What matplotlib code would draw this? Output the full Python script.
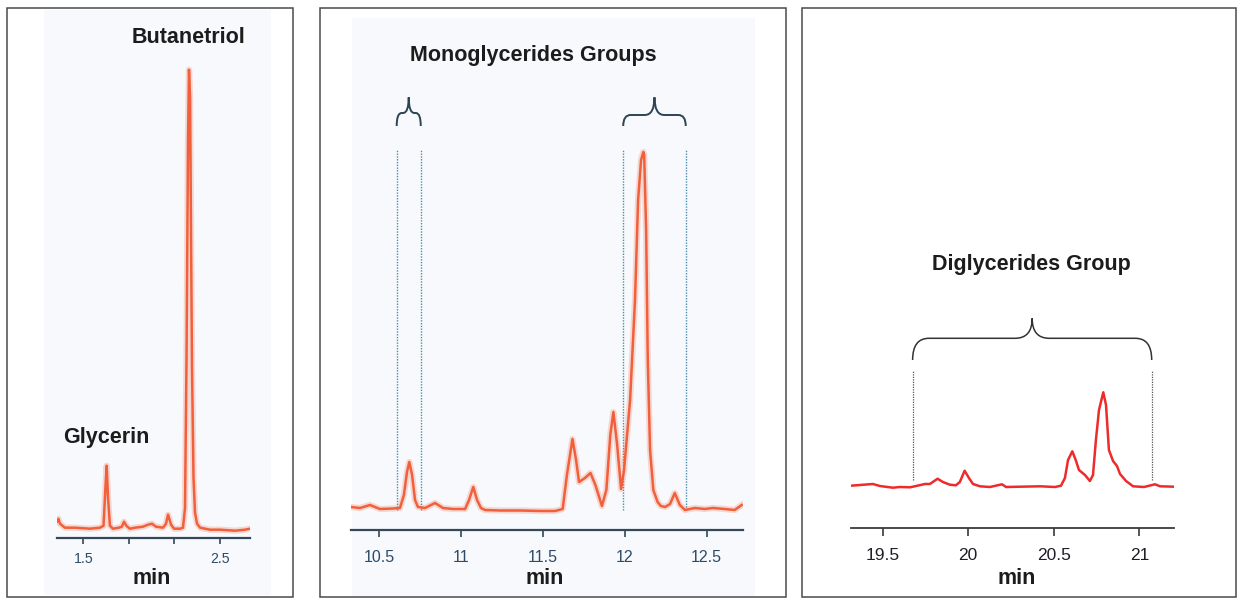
import numpy as np
import matplotlib
matplotlib.use("Agg")
import matplotlib.pyplot as plt
from matplotlib.patches import Rectangle, PathPatch
from matplotlib.path import Path
from matplotlib import transforms

### data (time in min, detector response in arbitrary units)
p1_time = [1.308, 1.318, 1.33, 1.366, 1.44, 1.549, 1.622, 1.648, 1.662, 1.671,
           1.681, 1.695, 1.717, 1.76, 1.782, 1.798, 1.815, 1.84, 1.878, 1.936,
           1.973, 2.002, 2.032, 2.083, 2.105, 2.12, 2.142, 2.164, 2.207, 2.229,
           2.244, 2.255, 2.266, 2.273, 2.281, 2.288, 2.295, 2.306, 2.317, 2.332,
           2.354, 2.427, 2.5, 2.61, 2.683, 2.719]
p1_signal = [16, 19, 14, 10, 10, 9, 10, 12, 50, 72,
             40, 12, 9, 10, 11, 16, 12, 9, 10, 11,
             13, 14, 11, 10, 14, 23, 13, 9, 9, 10,
             30, 180, 400, 468, 440, 300, 170, 60, 25, 14,
             10, 8, 8, 7, 8, 9]

p2_time = [10.325, 10.382, 10.443, 10.504, 10.584, 10.626, 10.65, 10.669, 10.683, 10.70,
           10.718, 10.736, 10.779, 10.84, 10.889, 10.95, 11.024, 11.048, 11.074, 11.097,
           11.121, 11.146, 11.237, 11.36, 11.482, 11.573, 11.62, 11.646, 11.68, 11.702,
           11.72, 11.756, 11.79, 11.82, 11.86, 11.887, 11.911, 11.93, 11.953, 11.977,
           11.995, 12.032, 12.062, 12.081, 12.099, 12.113, 12.118, 12.13, 12.14, 12.154,
           12.174, 12.2, 12.22, 12.246, 12.276, 12.305, 12.336, 12.367, 12.428, 12.489,
           12.537, 12.61, 12.671, 12.714]
p2_signal = [23, 22, 25, 21, 21.5, 22, 35, 58, 68, 55,
             30, 23, 22, 27, 22, 21, 21, 30, 43, 30,
             22, 20, 19.5, 19.5, 19, 19, 21, 55, 91, 70,
             48, 52, 57, 45, 24, 40, 95, 118, 85, 41,
             60, 130, 230, 330, 370, 378, 375, 300, 170, 80,
             40, 28, 24, 23, 26, 37, 25, 20, 22, 21,
             22, 21, 20, 25]

p3_time = [19.315, 19.367, 19.443, 19.484, 19.56, 19.601, 19.66, 19.695, 19.747, 19.776,
           19.821, 19.852, 19.893, 19.928, 19.951, 19.979, 20.004, 20.028, 20.069, 20.127,
           20.197, 20.221, 20.303, 20.42, 20.507, 20.542, 20.565, 20.583, 20.608, 20.628,
           20.647, 20.682, 20.711, 20.729, 20.746, 20.764, 20.789, 20.805, 20.822, 20.846,
           20.869, 20.887, 20.922, 20.963, 21.027, 21.091, 21.121, 21.204]
p3_signal = [42, 42.7, 43.7, 41.7, 40, 40.7, 40.4, 41.7, 43.7, 43.7,
             49, 45.7, 43, 42.4, 45.7, 57, 49.7, 43.7, 41.4, 40.7,
             43.4, 40.7, 41, 41.4, 40.7, 42, 49.7, 67.7, 76.4, 67.7,
             57.7, 52.7, 46.7, 52.7, 87.7, 117.7, 135.4, 122.7, 77.7, 66.7,
             61.7, 53.7, 46.7, 41.4, 40.7, 43.4, 41.4, 41]

p1_ticks = [1.5, 1.833, 2.167, 2.5]
p1_ticklabels = ["1.5", "", "", "2.5"]
p2_ticks = [10.5, 11, 11.5, 12, 12.5]
p2_ticklabels = ["10.5", "11", "11.5", "12", "12.5"]
p3_ticks = [19.5, 20, 20.5, 21]
p3_ticklabels = ["19.5", "20", "20.5", "21"]

mono_groups = [(10.606, 10.753), (11.99, 12.372)]
di_group = (19.675, 21.072)

W, H = 1243, 599
BOLD_FONT = ["Liberation Sans", "DejaVu Sans"]
TICK_FONT = ["Liberation Sans", "DejaVu Sans"]
ORANGE = "#f1603c"
RED = "#ee2b2b"


def px_axes(fig, left, right, top, bottom):
    return fig.add_axes([left / W, 1 - bottom / H, (right - left) / W, (bottom - top) / H])


def setup_axis(ax, xlim, ylim, ticks, color, lw, ticklen):
    ax.set_xlim(xlim)
    ax.set_ylim(ylim)
    for s in ["top", "left", "right"]:
        ax.spines[s].set_visible(False)
    ax.spines["bottom"].set_color(color)
    ax.spines["bottom"].set_linewidth(lw)
    ax.set_yticks([])
    ax.set_xticks(ticks)
    ax.set_xticklabels([])
    ax.tick_params(axis="x", direction="out", length=ticklen, width=1.2, color=color)
    ax.patch.set_alpha(0)


def tick_texts(fig, ax, ticks, labels, baseline_px, size, color):
    trans = transforms.blended_transform_factory(ax.transData, fig.transFigure)
    for t, lab in zip(ticks, labels):
        if lab:
            ax.text(t, 1 - baseline_px / H, lab, transform=trans, ha="center",
                    va="baseline", fontsize=size, color=color, family=TICK_FONT)


def draw_brace(ax, x0, x1, y_end, y_h, y_tip, r_c, r_t, color, lw):
    xm = (x0 + x1) / 2
    verts = [(x0, y_end), (x0, y_h), (x0 + r_c, y_h), (xm - r_t, y_h), (xm, y_h), (xm, y_tip),
             (xm, y_h), (xm + r_t, y_h), (x1 - r_c, y_h), (x1, y_h), (x1, y_end)]
    codes = [Path.MOVETO, Path.CURVE3, Path.CURVE3, Path.LINETO, Path.CURVE3, Path.CURVE3,
             Path.CURVE3, Path.CURVE3, Path.LINETO, Path.CURVE3, Path.CURVE3]
    ax.add_patch(PathPatch(Path(verts, codes), fill=False, edgecolor=color, lw=lw,
                           clip_on=False))


def label(fig, x, baseline, s, size=15.5):
    fig.text(x / W, 1 - baseline / H, s, ha="center", va="baseline", fontsize=size,
             fontweight="bold", family=BOLD_FONT, color="#1c1c1c")


def chrom(ax, t, y, color, halo=True):
    if halo:
        ax.plot(t, y, color=color, lw=4.5, alpha=0.22, solid_joinstyle="round")
    ax.plot(t, y, color=color, lw=1.8, solid_joinstyle="round")


def main():
    fig = plt.figure(figsize=(W / 100, H / 100), dpi=100)
    fig.patch.set_facecolor("white")

    ### panel frames and tinted plot areas
    for (x0, y0, x1, y1) in [(7, 8, 293, 597), (320, 8, 786, 597), (802, 8, 1236, 597)]:
        fig.patches.append(Rectangle((x0 / W, 1 - y1 / H), (x1 - x0) / W, (y1 - y0) / H,
                                     transform=fig.transFigure, fill=False,
                                     edgecolor="#4a4a4a", lw=1.1))
    for (x0, y0, x1, y1) in [(44, 10, 271, 595), (352, 18, 755, 596)]:
        fig.patches.append(Rectangle((x0 / W, 1 - y1 / H), (x1 - x0) / W, (y1 - y0) / H,
                                     transform=fig.transFigure, facecolor="#f7f9fc",
                                     edgecolor="none", zorder=-1))

    ### panel 1 : glycerin / butanetriol
    ax1 = px_axes(fig, 57, 250, 10, 537.7)
    setup_axis(ax1, (1.308, 2.719), (0, 527.7), p1_ticks, "#34485c", 1.6, 4)
    chrom(ax1, p1_time, p1_signal, ORANGE)
    tick_texts(fig, ax1, p1_ticks, p1_ticklabels, 563, 10.2, "#2d4b68")
    label(fig, 188.5, 43.3, "Butanetriol")
    label(fig, 106.5, 443, "Glycerin")
    label(fig, 151.7, 584, "min")

    ### panel 2 : monoglycerides
    ax2 = px_axes(fig, 350.7, 742.7, 10, 530)
    setup_axis(ax2, (10.325, 12.72), (0, 520), p2_ticks, "#34485c", 1.6, 5)
    for g in mono_groups:
        ax2.vlines(g, 20, 380, colors="#4a8fb0", linestyles=(0, (1, 1)), lw=1.0)
    chrom(ax2, p2_time, p2_signal, ORANGE)
    draw_brace(ax2, mono_groups[0][0], mono_groups[0][1], 404, 417, 432.7, 0.03, 0.035,
               "#2c4454", 1.4)
    draw_brace(ax2, mono_groups[1][0], mono_groups[1][1], 404, 415, 432.7, 0.045, 0.06,
               "#2c4454", 1.4)
    tick_texts(fig, ax2, p2_ticks, p2_ticklabels, 561.7, 11.5, "#2d4b68")
    label(fig, 532.9, 60.5, "Monoglycerides Groups")
    label(fig, 545, 584, "min")

    ### panel 3 : diglycerides
    ax3 = px_axes(fig, 851, 1174.3, 10, 527.7)
    setup_axis(ax3, (19.315, 21.204), (0, 517.7), p3_ticks, "#3a3a3a", 1.3, 6)
    ax3.vlines(di_group, 47.7, 157.7, colors="#555555", linestyles=(0, (1, 1)), lw=0.9)
    chrom(ax3, p3_time, p3_signal, RED, halo=False)
    draw_brace(ax3, di_group[0], di_group[1], 167.7, 189.4, 209.4, 0.095, 0.1,
               "#333333", 1.1)
    tick_texts(fig, ax3, p3_ticks, p3_ticklabels, 560, 12.5, "#1e1e28")
    label(fig, 1031, 270, "Diglycerides Group")
    label(fig, 1016.7, 584, "min")

    fig.savefig("out.png", dpi=100)


if __name__ == "__main__":
    main()
